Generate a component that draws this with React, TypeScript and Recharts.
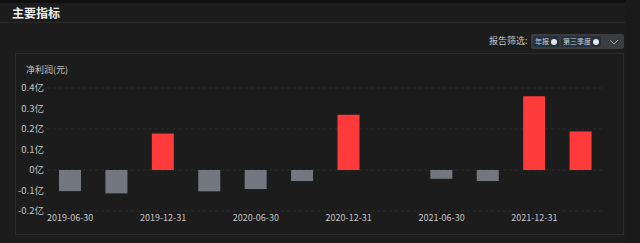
import { Bar, BarChart, CartesianGrid, Cell, XAxis, YAxis } from "recharts";

const periods = [
  "2019-06-30",
  "2019-09-30",
  "2019-12-31",
  "2020-03-31",
  "2020-06-30",
  "2020-09-30",
  "2020-12-31",
  "2021-03-31",
  "2021-06-30",
  "2021-09-30",
  "2021-12-31",
  "2022-03-31",
];
// 净利润, 单位: 亿元
const netProfit = [-0.103, -0.114, 0.178, -0.104, -0.093, -0.054, 0.27, null, -0.043, -0.054, 0.36, 0.188];
const yTicks = [-0.2, -0.1, 0, 0.1, 0.2, 0.3, 0.4];
const filterTags = ["年报", "第三季度"];

const data = periods.map((p, i) => ({ period: p, profit: netProfit[i] }));

const FONT = '"Noto Sans CJK SC", "Noto Sans", sans-serif';
const TEXT = "#c4c4c4";

export default function App() {
  return (
    <div
      style={{
        position: "absolute",
        top: 0,
        left: 0,
        width: 640,
        height: 243,
        background: "#1c1c1c",
        fontFamily: FONT,
        overflow: "hidden",
      }}
    >
      <div style={{ position: "absolute", top: 0, left: 0, width: 640, height: 3, background: "#101010" }} />
      <div
        style={{
          position: "absolute",
          left: 12,
          top: 4,
          fontSize: 12,
          fontWeight: 700,
          color: "#ececec",
          lineHeight: "18px",
        }}
      >
        主要指标
      </div>
      <div style={{ position: "absolute", top: 22, left: 0, width: 640, height: 1, background: "#2a2a2a" }} />
      <div style={{ position: "absolute", top: 0, left: 626, width: 14, height: 243, background: "#191919" }} />

      {/* 报告筛选 */}
      <div
        style={{
          position: "absolute",
          left: 489,
          top: 33,
          fontSize: 9,
          color: TEXT,
          lineHeight: "16px",
          whiteSpace: "nowrap",
        }}
      >
        报告筛选:
      </div>
      <div
        style={{
          position: "absolute",
          left: 531,
          top: 34,
          width: 93,
          height: 15,
          background: "#3a3c3f",
          borderRadius: 2,
          display: "flex",
          alignItems: "center",
          paddingLeft: 2,
          boxSizing: "border-box",
          gap: 2,
          whiteSpace: "nowrap",
        }}
      >
        {filterTags.map((t) => (
          <div
            key={t}
            style={{
              height: 11,
              background: "#25303d",
              borderRadius: 2,
              display: "flex",
              alignItems: "center",
              padding: "0 2px",
              gap: 2,
              fontSize: 7,
              color: "#c8d0da",
              lineHeight: "11px",
              flexShrink: 0,
            }}
          >
            {t}
            <span
              style={{
                width: 6,
                height: 6,
                borderRadius: 3,
                background: "#e6e8ec",
                display: "inline-block",
                flexShrink: 0,
              }}
            />
          </div>
        ))}
        <svg width={10} height={8} style={{ marginLeft: "auto", marginRight: 5, flexShrink: 0 }}>
          <path d="M1 2 L5 6 L9 2" stroke="#9a9a9a" strokeWidth={1} fill="none" />
        </svg>
      </div>

      {/* panel */}
      <div
        style={{
          position: "absolute",
          left: 15,
          top: 53,
          width: 609,
          height: 182,
          border: "1px solid #2b2b2b",
          boxSizing: "border-box",
        }}
      />
      <div
        style={{
          position: "absolute",
          left: 26,
          top: 63,
          fontSize: 9,
          color: TEXT,
          lineHeight: "14px",
          whiteSpace: "nowrap",
        }}
      >
        净利润(元)
      </div>

      <div style={{ position: "absolute", top: 0, left: 0 }}>
        <BarChart
          width={640}
          height={243}
          data={data}
          margin={{ top: 88, right: 36, bottom: 12, left: 7 }}
        >
          <CartesianGrid vertical={false} stroke="#2c2c2c" strokeDasharray="3 3" />
          <XAxis
            dataKey="period"
            interval={1}
            height={20}
            tickSize={0}
            tickMargin={4}
            axisLine={false}
            tick={{ fill: TEXT, fontSize: 9, fontFamily: FONT }}
          />
          <YAxis
            width={40}
            domain={[-0.2, 0.4]}
            ticks={yTicks}
            tickSize={0}
            tickMargin={3}
            axisLine={false}
            tickFormatter={(v: number) => `${v}亿`}
            tick={{ fill: TEXT, fontSize: 9.5, fontFamily: FONT }}
          />
          <Bar dataKey="profit" barSize={22} isAnimationActive={false}>
            {data.map((d) => (
              <Cell key={d.period} fill={(d.profit ?? 0) >= 0 ? "#fe3a3a" : "#737880"} />
            ))}
          </Bar>
        </BarChart>
      </div>
    </div>
  );
}
